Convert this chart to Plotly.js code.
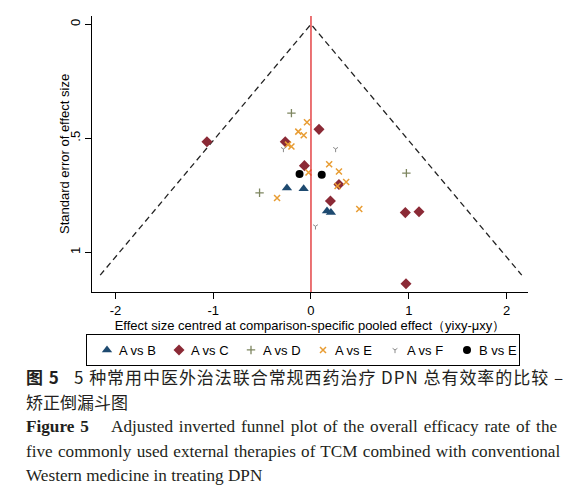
<!DOCTYPE html>
<html>
<head>
<meta charset="utf-8">
<script src="https://cdn.plot.ly/plotly-3.0.1.min.js"></script>
<style>
  html, body { margin: 0; padding: 0; background: #ffffff; }
  #chart { width: 571px; height: 493px; }
  g.annotation[data-index="1"] text { letter-spacing: 0.95px; }
  g.annotation[data-index="3"] text { word-spacing: 1.5px; }
  g.annotation[data-index="4"] text { word-spacing: 0.9px; }
  g.legend text.legendtext { transform: translateX(-8px); }
</style>
</head>
<body>
<div id="chart"></div>
<script>
// ---- Data ----
var seriesNames = ["A vs B", "A vs C", "A vs D", "A vs E", "A vs F", "B vs E"];

var abX = [-0.246, -0.075, 0.164, 0.204];
var abY = [0.718, 0.721, 0.819, 0.826];

var acX = [-1.064, -0.263, 0.082, -0.067, 0.286, 0.199, 0.965, 1.105, 0.972];
var acY = [0.515, 0.515, 0.461, 0.620, 0.703, 0.775, 0.826, 0.822, 1.138];

var adX = [-0.200, -0.526, 0.976];
var adY = [0.390, 0.739, 0.653];

var aeX = [-0.041, -0.130, -0.074, -0.235, -0.200, -0.025, 0.186, 0.286, 0.360, 0.272, -0.347, 0.494];
var aeY = [0.430, 0.471, 0.487, 0.528, 0.536, 0.650, 0.614, 0.646, 0.692, 0.709, 0.762, 0.810];

var afX = [-0.282, 0.252, 0.046];
var afY = [0.547, 0.547, 0.886];

var beX = [-0.117, 0.110];
var beY = [0.657, 0.660];

var seMax = 1.1;      // extent of the pseudo 95% CI funnel
var zCrit = 1.96;

var xTickVals = [-2, -1, 0, 1, 2];
var xTickText = ["-2", "-1", "0", "1", "2"];
var yTickVals = [0, 0.5, 1];
var yTickText = ["0", ".5", "1"];

var xTitle = "Effect size centred at comparison-specific pooled effect\uff08yixy-\u03bcxy\uff09";
var yTitle = "Standard error of effect size";

var captionLines = [
  "<b>图 5</b>   5 种常用中医外治法联合常规西药治疗 DPN 总有效率的比较 –",
  "矫正倒漏斗图",
  "<b>Figure 5</b>    Adjusted inverted funnel plot of the overall efficacy rate of the",
  "five commonly used external therapies of TCM combined with conventional",
  "Western medicine in treating DPN"
];

// ---- Traces ----
var funnelX = [-zCrit * seMax, 0, zCrit * seMax];
var funnelY = [seMax, 0, seMax];

var traces = [
  { x: funnelX, y: funnelY, mode: "lines", showlegend: false, hoverinfo: "skip",
    line: { color: "#222222", width: 1.3, dash: "6px,4px" } },
  { x: abX, y: abY, mode: "markers", name: seriesNames[0],
    marker: { symbol: "triangle-up", size: 9, color: "#1e4a70" } },
  { x: acX, y: acY, mode: "markers", name: seriesNames[1],
    marker: { symbol: "diamond", size: 8.5, color: "#8b2a36" } },
  { x: adX, y: adY, mode: "markers", name: seriesNames[2],
    marker: { symbol: "cross-thin", size: 6, color: "#7e8660", line: { color: "#7e8660", width: 1.3 } } },
  { x: aeX, y: aeY, mode: "markers", name: seriesNames[3],
    marker: { symbol: "x-thin", size: 6, color: "#e89c32", line: { color: "#e89c32", width: 1.5 } } },
  { x: afX, y: afY, mode: "markers", name: seriesNames[4],
    marker: { symbol: "y-down", size: 4, color: "#8a8a8a", line: { color: "#8a8a8a", width: 1 } } },
  { x: beX, y: beY, mode: "markers", name: seriesNames[5],
    marker: { symbol: "circle", size: 8, color: "#000000" } }
];

// ---- Layout ----
var L = 92, R = 528, T = 16, B = 292, W = 571, H = 493;
function px2paperX(X) { return (X - L) / (R - L); }
function px2paperY(Y) { return (B - Y) / (B - T); }

var axisFont = { family: "Liberation Sans, Arial, sans-serif", size: 13, color: "#000000" };

var captionY = [376, 401, 426, 451, 475];
var cjkFont = { family: "Noto Sans CJK SC, sans-serif", size: 17, color: "#231f20" };
var serifFont = { family: "Liberation Serif, Times New Roman, serif", size: 17.2, color: "#231f20" };
var captionFonts = [cjkFont, cjkFont, serifFont, serifFont, serifFont];

var annotations = [{
  text: yTitle, xref: "paper", yref: "paper",
  x: px2paperX(64), y: 0.5, xanchor: "center", yanchor: "middle",
  textangle: -90, showarrow: false, font: axisFont
}].concat(captionLines.map(function (t, i) {
  return {
    text: t, xref: "paper", yref: "paper",
    x: px2paperX(24), y: px2paperY(captionY[i]),
    xanchor: "left", yanchor: "middle", showarrow: false,
    align: "left", font: captionFonts[i]
  };
}));

var layout = {
  width: W, height: H,
  margin: { l: L, r: W - R, t: T, b: H - B, pad: 0 },
  paper_bgcolor: "#ffffff", plot_bgcolor: "#ffffff",
  font: axisFont,
  showlegend: true,
  xaxis: {
    range: [-2.24, 2.22], tickvals: xTickVals, ticktext: xTickText,
    ticks: "outside", ticklen: 6, tickwidth: 1, tickcolor: "#000",
    showgrid: false, zeroline: false, showline: true, linecolor: "#000", linewidth: 1,
    tickfont: axisFont,
    title: { text: xTitle, font: axisFont, standoff: 0 },
    automargin: false
  },
  yaxis: {
    range: [1.174, -0.036], tickvals: yTickVals, ticktext: yTickText,
    tickangle: -90,
    ticks: "outside", ticklen: 6, tickwidth: 1, tickcolor: "#000",
    showgrid: false, zeroline: false, showline: true, linecolor: "#000", linewidth: 1,
    tickfont: axisFont,
    automargin: false
  },
  shapes: [
    { type: "line", xref: "x", yref: "paper", x0: 0, x1: 0, y0: 0, y1: 1,
      line: { color: "#e0282a", width: 1.3 } }
  ],
  legend: {
    orientation: "h", x: px2paperX(303), xanchor: "center", y: px2paperY(334), yanchor: "top",
    bordercolor: "#000", borderwidth: 1, bgcolor: "#fff",
    font: axisFont, entrywidth: 27, itemclick: false
  },
  annotations: annotations
};

Plotly.newPlot("chart", traces, layout, { staticPlot: true, displayModeBar: false });
</script>
</body>
</html>
